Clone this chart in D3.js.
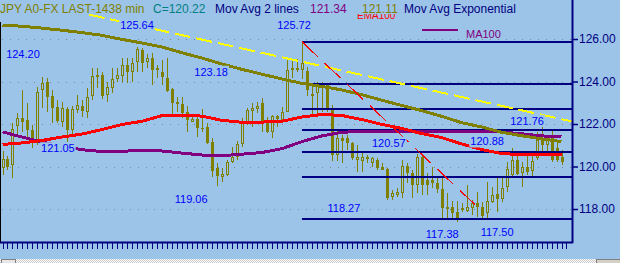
<!DOCTYPE html>
<html>
<head>
<meta charset="utf-8">
<script src="https://cdn.jsdelivr.net/npm/d3@7"></script>
<style>
  body { margin: 0; background: #9cc4e9; }
  svg { display: block; font-family: "Liberation Sans", Arial, sans-serif; }
</style>
</head>
<body>
<div id="chart"></div>
<script>
// daily bars, JPY A0-FX
const opens = [119.91,120.35,120.07,121.92,122.27,122.19,121.72,121.17,123.60,123.96,
  123.33,122.82,122.11,122.71,121.72,122.66,122.85,122.58,123.33,124.31,
  124.31,123.36,123.68,124.12,124.27,124.78,124.43,124.90,125.48,124.90,
  125.12,124.62,124.46,124.18,123.65,123.05,122.94,122.58,122.11,122.24,
  121.83,121.87,121.17,119.94,119.52,119.60,120.20,120.46,121.04,122.08,
  122.61,122.71,122.97,122.08,121.61,122.39,122.19,122.58,124.62,124.53,
  124.54,124.50,123.40,123.44,123.84,123.84,122.66,120.54,121.35,121.33,
  121.09,120.30,120.28,120.46,120.15,120.30,119.96,119.87,118.55,118.66,
  118.74,120.02,119.68,119.13,120.46,119.36,119.36,119.21,118.93,118.00,
  118.11,117.84,117.95,117.91,118.06,118.27,118.11,117.80,118.34,118.69,
  118.47,119.05,119.60,120.31,119.68,119.99,119.79,120.38,121.25,121.01,
  121.40,120.85,120.46];
const highs = [120.73,120.51,122.03,122.50,123.60,122.97,121.95,123.76,124.23,124.15,
  123.60,123.13,123.05,122.82,122.86,123.36,123.13,123.68,124.62,124.62,
  124.43,123.99,124.62,124.65,125.09,125.09,125.09,125.64,125.60,125.28,
  125.33,124.78,125.01,125.09,123.71,123.29,123.29,122.86,122.35,122.42,
  122.71,122.03,121.33,120.15,119.91,120.30,120.93,121.20,122.27,122.77,
  122.97,123.05,123.21,122.35,122.42,122.42,122.82,125.01,125.01,125.06,
  125.87,124.70,123.84,123.99,123.99,123.91,122.89,121.72,121.48,121.48,
  121.17,121.01,120.62,120.54,120.46,120.38,120.15,119.91,118.90,118.97,
  120.30,120.15,119.84,120.59,120.54,119.68,119.99,119.44,119.44,118.74,
  118.38,118.38,118.27,119.13,118.42,118.82,118.34,119.29,119.05,119.44,
  119.44,120.23,120.85,120.70,120.23,120.54,120.70,121.64,121.87,121.40,
  121.72,121.25,120.78];
const lows = [119.60,119.84,119.44,121.48,121.64,121.33,120.85,121.01,122.74,122.58,
  122.03,122.03,121.87,121.17,121.48,122.50,122.35,122.27,123.13,123.68,
  123.18,123.05,123.44,123.99,123.99,123.91,123.99,124.43,124.46,124.62,
  123.84,124.15,123.84,123.49,122.42,122.58,122.27,121.61,122.08,121.40,
  121.64,121.04,119.52,119.06,119.25,119.57,120.16,120.30,120.93,121.95,
  121.87,122.50,121.64,121.56,121.33,121.87,122.11,122.55,124.15,124.46,
  124.12,123.30,122.42,122.42,122.58,122.58,120.26,120.26,120.17,120.78,
  120.30,119.76,119.76,120.15,119.99,119.84,119.84,118.42,118.42,118.58,
  118.50,119.21,118.50,118.74,118.66,118.66,118.97,118.74,117.53,117.56,
  117.56,117.38,117.88,117.88,117.72,117.64,117.56,117.50,118.27,117.88,
  118.34,118.82,119.52,119.60,119.05,119.60,119.52,120.31,120.54,120.54,
  120.23,120.23,120.07];
const closes = [120.35,119.99,121.75,122.27,122.11,121.72,121.25,123.49,123.91,123.29,
  122.77,122.14,122.77,121.72,122.71,122.89,122.61,123.29,124.27,124.21,
  123.33,123.76,124.12,124.31,124.78,124.46,124.85,125.53,124.85,125.12,
  124.54,124.54,124.23,123.55,122.97,122.93,122.50,122.19,122.24,121.80,
  121.76,121.09,119.79,119.57,119.63,120.22,120.46,121.04,122.08,122.66,
  122.77,122.83,122.08,121.61,122.39,122.24,122.55,124.54,124.53,124.62,
  124.85,123.60,123.30,123.84,123.68,122.66,120.54,121.33,121.22,121.09,
  120.38,120.46,120.46,120.34,120.38,119.91,119.84,118.50,118.77,118.81,
  120.02,119.68,119.13,120.46,119.13,119.13,119.21,118.93,118.03,118.11,
  117.80,117.59,118.06,118.11,118.30,118.11,117.69,118.38,118.66,118.47,
  119.00,119.88,120.31,119.63,119.96,119.76,120.26,121.25,121.01,121.25,
  120.31,120.31,120.22];

// moving averages, read every 4th bar
const maIndex = d3.range(0, 113, 4);
const maOlive = [126.65,126.60,126.51,126.41,126.30,126.17,125.98,125.81,125.62,125.35,
  125.10,124.82,124.57,124.34,124.12,123.91,123.77,123.60,123.38,123.12,
  122.87,122.63,122.36,122.06,121.86,121.61,121.45,121.30,121.17];
const maRed = [121.04,121.11,121.23,121.39,121.53,121.74,121.98,122.13,122.40,122.42,
  122.37,122.17,122.08,122.09,122.13,122.33,122.45,122.40,122.21,121.98,
  121.79,121.55,121.36,121.06,120.80,120.61,120.56,120.56,120.56];
const maPurple = [121.63,121.38,121.15,120.95,120.79,120.70,120.72,120.75,120.73,120.63,
  120.54,120.51,120.58,120.66,120.84,121.17,121.44,121.61,121.65,121.67,
  121.67,121.67,121.67,121.66,121.65,121.62,121.54,121.44,121.40];

// retracement levels drawn from the high bar
const fibStart = 60;
const fibLevels = [125.87, 123.88, 122.72, 121.72, 120.70, 119.51, 117.52];

// trend lines [bar, price]
const yellowTrend = [[17.3, 127.15], [114.1, 122.12]];
const redTrend = [[60, 125.87], [94.7, 118.20]];

// swing labels [text, bar, price]
const swingLabels = [
  ['125.64', 26.95, 126.64], ['125.72', 58.4, 126.64], ['124.20', 4.1, 125.29],
  ['123.18', 41.8, 124.45], ['121.05', 11.1, 120.85], ['119.06', 37.8, 118.47],
  ['120.57', 77.4, 121.11], ['120.88', 97.1, 121.17], ['121.76', 105.1, 122.14],
  ['118.27', 68.4, 118.02], ['117.38', 88.1, 116.80], ['117.50', 99.1, 116.93]
];

const yTicks = [118, 120, 122, 124, 126];

const bg = '#9cc4e9', olive = '#808000', navy = '#000080';
const w = 620, h = 263, axisX = 572, axisY = 242;

const svg = d3.select('#chart').append('svg')
  .attr('width', w)
  .attr('height', h)
  .style('background', bg);

const x = d3.scaleLinear().domain([0, 112]).range([2.5, 561.5]);
const y = d3.scaleLinear().domain([118, 126]).range([209, 39]);
const px = i => Math.round(x(i));

const defs = svg.append('defs');
defs.append('clipPath').attr('id', 'plot-clip')
  .append('rect').attr('x', 0).attr('y', 0).attr('width', axisX).attr('height', axisY);
// only the lower strip of the EMA100 tag shows under the header values
defs.append('clipPath').attr('id', 'ema-clip')
  .append('rect').attr('x', 350).attr('y', 14).attr('width', 60).attr('height', 8);

const plot = svg.append('g').attr('clip-path', 'url(#plot-clip)');

// dotted grid
plot.selectAll('.grid')
  .data(yTicks)
  .enter()
  .append('line')
  .attr('x1', 2).attr('x2', axisX)
  .attr('y1', d => Math.round(y(d)) + 0.5)
  .attr('y2', d => Math.round(y(d)) + 0.5)
  .attr('stroke', '#7f8890')
  .attr('stroke-dasharray', '1,7');

// candles
const bars = opens.map((o, i) => ({ i, o, h: highs[i], l: lows[i], c: closes[i] }));
const candle = plot.selectAll('.candle')
  .data(bars)
  .enter()
  .append('g')
  .attr('class', 'candle');

candle.append('line')
  .attr('x1', d => px(d.i) + 0.5)
  .attr('x2', d => px(d.i) + 0.5)
  .attr('y1', d => Math.round(y(d.h)))
  .attr('y2', d => Math.round(y(d.l)))
  .attr('stroke', olive);

candle.append('rect')
  .attr('x', d => d.c >= d.o ? px(d.i) - 0.5 : px(d.i) - 1)
  .attr('y', d => Math.round(y(Math.max(d.o, d.c))) + (d.c >= d.o ? 0.5 : 0))
  .attr('width', d => d.c >= d.o ? 2 : 3)
  .attr('height', d => {
    const hh = Math.round(y(Math.min(d.o, d.c))) - Math.round(y(Math.max(d.o, d.c)));
    return d.c >= d.o ? Math.max(1, hh - 1) : Math.max(1, hh);
  })
  .attr('fill', d => d.c >= d.o ? bg : olive)
  .attr('stroke', d => d.c >= d.o ? olive : 'none');

// retracement lines
plot.selectAll('.fib')
  .data(fibLevels)
  .enter()
  .append('line')
  .attr('x1', x(fibStart)).attr('x2', axisX)
  .attr('y1', d => Math.round(y(d)))
  .attr('y2', d => Math.round(y(d)))
  .attr('stroke', navy)
  .attr('stroke-width', 2);

// moving averages
const maLine = d3.line().x((d, k) => x(maIndex[k])).y(d => y(d));
[[maPurple, '#800080'], [maRed, '#ff0000'], [maOlive, olive]].forEach(([vals, col]) => {
  plot.append('path')
    .attr('d', maLine(vals))
    .attr('fill', 'none')
    .attr('stroke', col)
    .attr('stroke-width', 3)
    .attr('shape-rendering', 'crispEdges');
});

// trend lines
const trendLine = d3.line().x(d => x(d[0])).y(d => y(d[1]));
plot.append('path')
  .attr('d', trendLine(yellowTrend))
  .attr('stroke', '#ffff00')
  .attr('stroke-width', 2)
  .attr('stroke-dasharray', '16,6')
  .attr('shape-rendering', 'crispEdges');

plot.append('path')
  .attr('d', trendLine(redTrend))
  .attr('stroke', '#ff0000')
  .attr('stroke-width', 1.2)
  .attr('stroke-dasharray', '22,9')
  .attr('shape-rendering', 'crispEdges');

// swing labels with opaque boxes
const lab = plot.selectAll('.swing')
  .data(swingLabels)
  .enter()
  .append('g')
  .attr('class', 'swing');

lab.append('rect').attr('fill', bg);
lab.append('text')
  .attr('x', d => x(d[1]))
  .attr('y', d => y(d[2]))
  .attr('dy', '0.35em')
  .attr('text-anchor', 'middle')
  .style('font-size', '11px')
  .attr('fill', '#0000ff')
  .text(d => d[0]);

lab.each(function () {
  const g = d3.select(this);
  const b = g.select('text').node().getBBox();
  g.select('rect')
    .attr('x', b.x - 1).attr('y', b.y)
    .attr('width', b.width + 2).attr('height', b.height);
});

// axes
svg.append('line')
  .attr('x1', 0.5).attr('x2', 0.5).attr('y1', 22).attr('y2', axisY)
  .attr('stroke', '#000');

svg.append('line')
  .attr('x1', axisX + 0.5).attr('x2', axisX + 0.5).attr('y1', 0).attr('y2', axisY + 1)
  .attr('stroke', navy).attr('stroke-width', 2);

svg.append('line')
  .attr('x1', 0).attr('x2', axisX + 1).attr('y1', axisY + 0.5).attr('y2', axisY + 0.5)
  .attr('stroke', navy).attr('stroke-width', 2);

const yAxis = d3.axisRight(y)
  .tickValues(yTicks)
  .tickFormat(d3.format('.2f'))
  .tickSize(5)
  .tickPadding(1);

const yg = svg.append('g')
  .attr('transform', `translate(${axisX + 1}, 0)`)
  .call(yAxis);
yg.select('.domain').remove();
yg.selectAll('line').attr('stroke', navy).attr('stroke-width', 1.5);
yg.selectAll('text')
  .attr('fill', navy)
  .style('font-size', '12px')
  .style('font-family', '"Liberation Sans", Arial, sans-serif');

const xAxis = d3.axisBottom(x)
  .tickValues(d3.range(0, 114))
  .tickSize(6)
  .tickFormat('');

const xg = svg.append('g')
  .attr('transform', `translate(0, ${axisY + 1})`)
  .call(xAxis);
xg.select('.domain').remove();
xg.selectAll('.tick').attr('transform', d => `translate(${px(d) + 0.5}, 0)`);
xg.selectAll('line').attr('stroke', navy);

// scroll strip
const pat = defs.append('pattern')
  .attr('id', 'checker').attr('width', 2).attr('height', 2)
  .attr('patternUnits', 'userSpaceOnUse');
pat.append('rect').attr('width', 2).attr('height', 2).attr('fill', '#ffffff');
pat.append('rect').attr('width', 1).attr('height', 1).attr('fill', '#c8c8c8');
pat.append('rect').attr('x', 1).attr('y', 1).attr('width', 1).attr('height', 1).attr('fill', '#c8c8c8');

svg.append('rect')
  .attr('x', 0).attr('y', 259).attr('width', w).attr('height', 4)
  .attr('fill', 'url(#checker)');
svg.append('rect')
  .attr('x', 1.5).attr('y', 259.5).attr('width', 14).attr('height', 4)
  .attr('fill', '#e6e6e6').attr('stroke', '#808080');
svg.append('rect')
  .attr('x', 596.5).attr('y', 259.5).attr('width', 24).attr('height', 4)
  .attr('fill', '#d4d0c8').attr('stroke', '#808080');

// header
svg.append('g')
  .attr('clip-path', 'url(#ema-clip)')
  .append('text')
  .attr('x', 357).attr('y', 19)
  .attr('fill', '#ff0000')
  .style('font-size', '10px')
  .text('EMA100');

const header = [
  ['JPY A0-FX LAST-1438 min', olive, 0],
  ['C=120.22', '#008080', 153],
  ['Mov Avg 2 lines', navy, 215],
  ['121.34', '#800080', 310],
  ['121.11', olive, 362],
  ['Mov Avg Exponential', navy, 404]
];
const hg = svg.selectAll('.head')
  .data(header)
  .enter()
  .append('g');
hg.append('text')
  .attr('x', d => d[2])
  .attr('y', 12.5)
  .attr('fill', d => d[1])
  .style('font-size', '12px')
  .text(d => d[0]);

// legend
svg.append('line')
  .attr('x1', 422).attr('x2', 458).attr('y1', 30).attr('y2', 30)
  .attr('stroke', '#800080').attr('stroke-width', 2);
svg.append('text')
  .attr('x', 466).attr('y', 37.5)
  .attr('fill', '#800080')
  .style('font-size', '11px')
  .text('MA100');
</script>
</body>
</html>
